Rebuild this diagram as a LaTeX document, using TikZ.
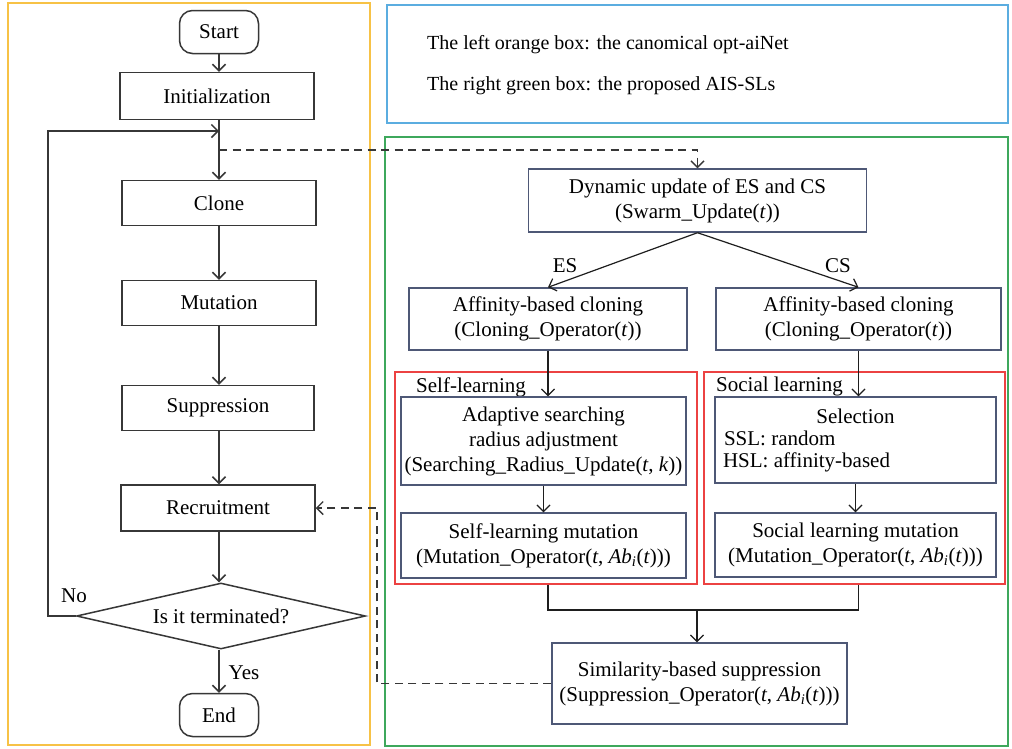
\documentclass[tikz,border=0pt]{standalone}
\usepackage{fontspec}
\setmainfont{Liberation Serif}
\usetikzlibrary{arrows.meta,shapes.geometric,calc}
\definecolor{orangeb}{RGB}{247,194,70}
\definecolor{blueb}{RGB}{91,173,224}
\definecolor{greenb}{RGB}{62,168,92}
\definecolor{redb}{RGB}{236,66,66}
\definecolor{leftline}{RGB}{55,55,55}
\definecolor{rightline}{RGB}{78,88,118}
\definecolor{conn}{RGB}{30,30,30}
\begin{document}
\begin{tikzpicture}[x=1pt,y=-1pt,
  font=\fontsize{21}{25}\selectfont,
  lbox/.style={draw=leftline, line width=1.5pt, minimum width=194pt, minimum height=45pt, inner sep=0pt},
  term/.style={draw=leftline, line width=1.5pt, rounded corners=13pt, minimum width=79pt, minimum height=43pt, inner sep=0pt},
  rbox/.style={draw=rightline, line width=1.4pt, inner sep=0pt, align=center},
  frame/.style={line width=1.6pt, inner sep=0pt},
  arr/.style={-{Straight Barb[length=6.5pt,width=13pt]}},
  lconn/.style={draw=leftline, line width=1.5pt},
  rconn/.style={draw=conn, line width=1.2pt},
  dconn/.style={draw=leftline, line width=1.4pt, dash pattern=on 8pt off 5.5pt},
  lab/.style={inner sep=0pt}
]
\fill[white] (0,0) rectangle (1012,748);
\useasboundingbox (0,0) rectangle (1012,748);

% outer frames
\node[frame, draw=orangeb, line width=2pt, minimum width=362pt, minimum height=742pt] (orangebox) at (189,374) {};
\node[frame, draw=blueb, minimum width=621pt, minimum height=118pt] (bluebox) at (697.5,64) {};
\node[frame, draw=greenb, minimum width=623pt, minimum height=609pt] (greenbox) at (696.5,441.5) {};

% legend texts
\node[lab, anchor=west, font=\fontsize{20}{24}\selectfont] (leg1) at (427,45) {The left orange box: the canomical opt-aiNet};
\node[lab, anchor=west, font=\fontsize{20}{24}\selectfont] (leg2) at (427,86) {The right green box: the proposed AIS-SLs};

% left flow chart
\node[term] (start) at (219,32) {Start};
\node[lbox, minimum height=47pt] (init) at (217,96) {Initialization};
\node[lbox] (clone) at (219,203) {Clone};
\node[lbox] (mut) at (219,303) {Mutation};
\node[lbox, minimum width=192pt] (supp) at (218,408) {Suppression};
\node[lbox, minimum height=46pt] (recr) at (218,508) {Recruitment};
\node[draw=leftline, line width=1.5pt, shape=diamond, aspect=4.36, minimum width=289pt, minimum height=66pt, inner sep=0pt] (term) at (221,616) {Is it terminated?};
\node[term] (endn) at (219,715) {End};

\coordinate (loopin) at (219,131);
\coordinate (loopc) at (48,131);
\coordinate (dstart) at (219,150);
\coordinate (dback) at (377,508);

\draw[lconn, arr] (start) -- (start |- init.north);
\draw[lconn, arr] (init.south -| loopin) -- (clone.north -| loopin);
\draw[lconn, arr] (clone.south -| loopin) -- (mut.north -| loopin);
\draw[lconn, arr] (mut.south -| loopin) -- (supp.north -| loopin);
\draw[lconn, arr] (supp.south -| loopin) -- (recr.north -| loopin);
\draw[lconn, arr] (recr.south -| loopin) -- (term.north -| loopin);
\draw[lconn, arr] (term.south -| loopin) -- (endn.north -| loopin);
\draw[lconn, arr] (term.west) -| (loopc) -- (loopin);

\node[lab] (no) at (74,596) {No};
\node[lab] (yes) at (244,673) {Yes};

% right flow chart
\node[rbox, minimum width=338pt, minimum height=63pt] (dyn) at (697.5,200.5) {Dynamic update of ES and CS\\(Swarm\_Update(\textit{t}))};
\node[rbox, minimum width=278pt, minimum height=62pt] (lclone) at (548,319) {Affinity-based cloning\\(Cloning\_Operator(\textit{t}))};
\node[rbox, minimum width=285pt, minimum height=62pt] (rclone) at (858.5,319) {Affinity-based cloning\\(Cloning\_Operator(\textit{t}))};

\draw[rconn, arr] (dyn.south) -- (lclone.north);
\draw[rconn, arr] (dyn.south) -- (rclone.north);
\node[lab] (es) at (565,266) {ES};
\node[lab] (cs) at (838,266) {CS};

\node[draw=redb, line width=1.5pt, minimum width=302pt, minimum height=212pt, inner sep=0pt] (lred) at (546,478) {};
\node[draw=redb, line width=1.5pt, minimum width=301pt, minimum height=212pt, inner sep=0pt] (rred) at (854.5,478) {};
\node[lab, anchor=west] (sllab) at (416,387) {Self-learning};
\node[lab, anchor=west] (soclab) at (716,386) {Social learning};

\node[rbox, minimum width=285pt, minimum height=88pt] (adapt) at (543.5,441) {Adaptive searching\\radius adjustment\\(Searching\_Radius\_Update(\textit{t}, \textit{k}))};
\node[rbox, minimum width=285pt, minimum height=65pt] (slmut) at (543.5,545.5) {Self-learning mutation\\(Mutation\_Operator(\textit{t}, \textit{Ab}\textsubscript{\textit{i}}(\textit{t})))};
\node[rbox, minimum width=281pt, minimum height=86pt, align=left, font=\fontsize{21}{22}\selectfont] (select) at (855.5,440) {\makebox[265pt]{Selection}\\\hspace*{1pt}SSL: random\\HSL: affinity-based};
\node[rbox, minimum width=281pt, minimum height=64pt] (socmut) at (855.5,545) {Social learning mutation\\(Mutation\_Operator(\textit{t}, \textit{Ab}\textsubscript{\textit{i}}(\textit{t})))};

\draw[rconn, arr] (lclone.south) -- (lclone.south |- adapt.north);
\draw[rconn, arr] (rclone.south) -- (rclone.south |- select.north);
\draw[rconn, arr] (adapt.south) -- (slmut.north);
\draw[rconn, arr] (select.south) -- (socmut.north);

\node[rbox, minimum width=295pt, minimum height=81pt] (sim) at (699.5,683.5) {Similarity-based suppression\\(Suppression\_Operator(\textit{t}, \textit{Ab}\textsubscript{\textit{i}}(\textit{t})))};

\coordinate (merge) at (697,610);
\draw[rconn] (lred.south -| lclone.south) |- (merge) -| (rred.south -| rclone.south);
\draw[rconn, arr] (merge) -- (merge |- sim.north);

% dashed links
\draw[dconn, arr] (dstart) -| (dyn.north);
\draw[dconn, arr] (sim.west) -| (dback) -- (recr.east);
\end{tikzpicture}
\end{document}
